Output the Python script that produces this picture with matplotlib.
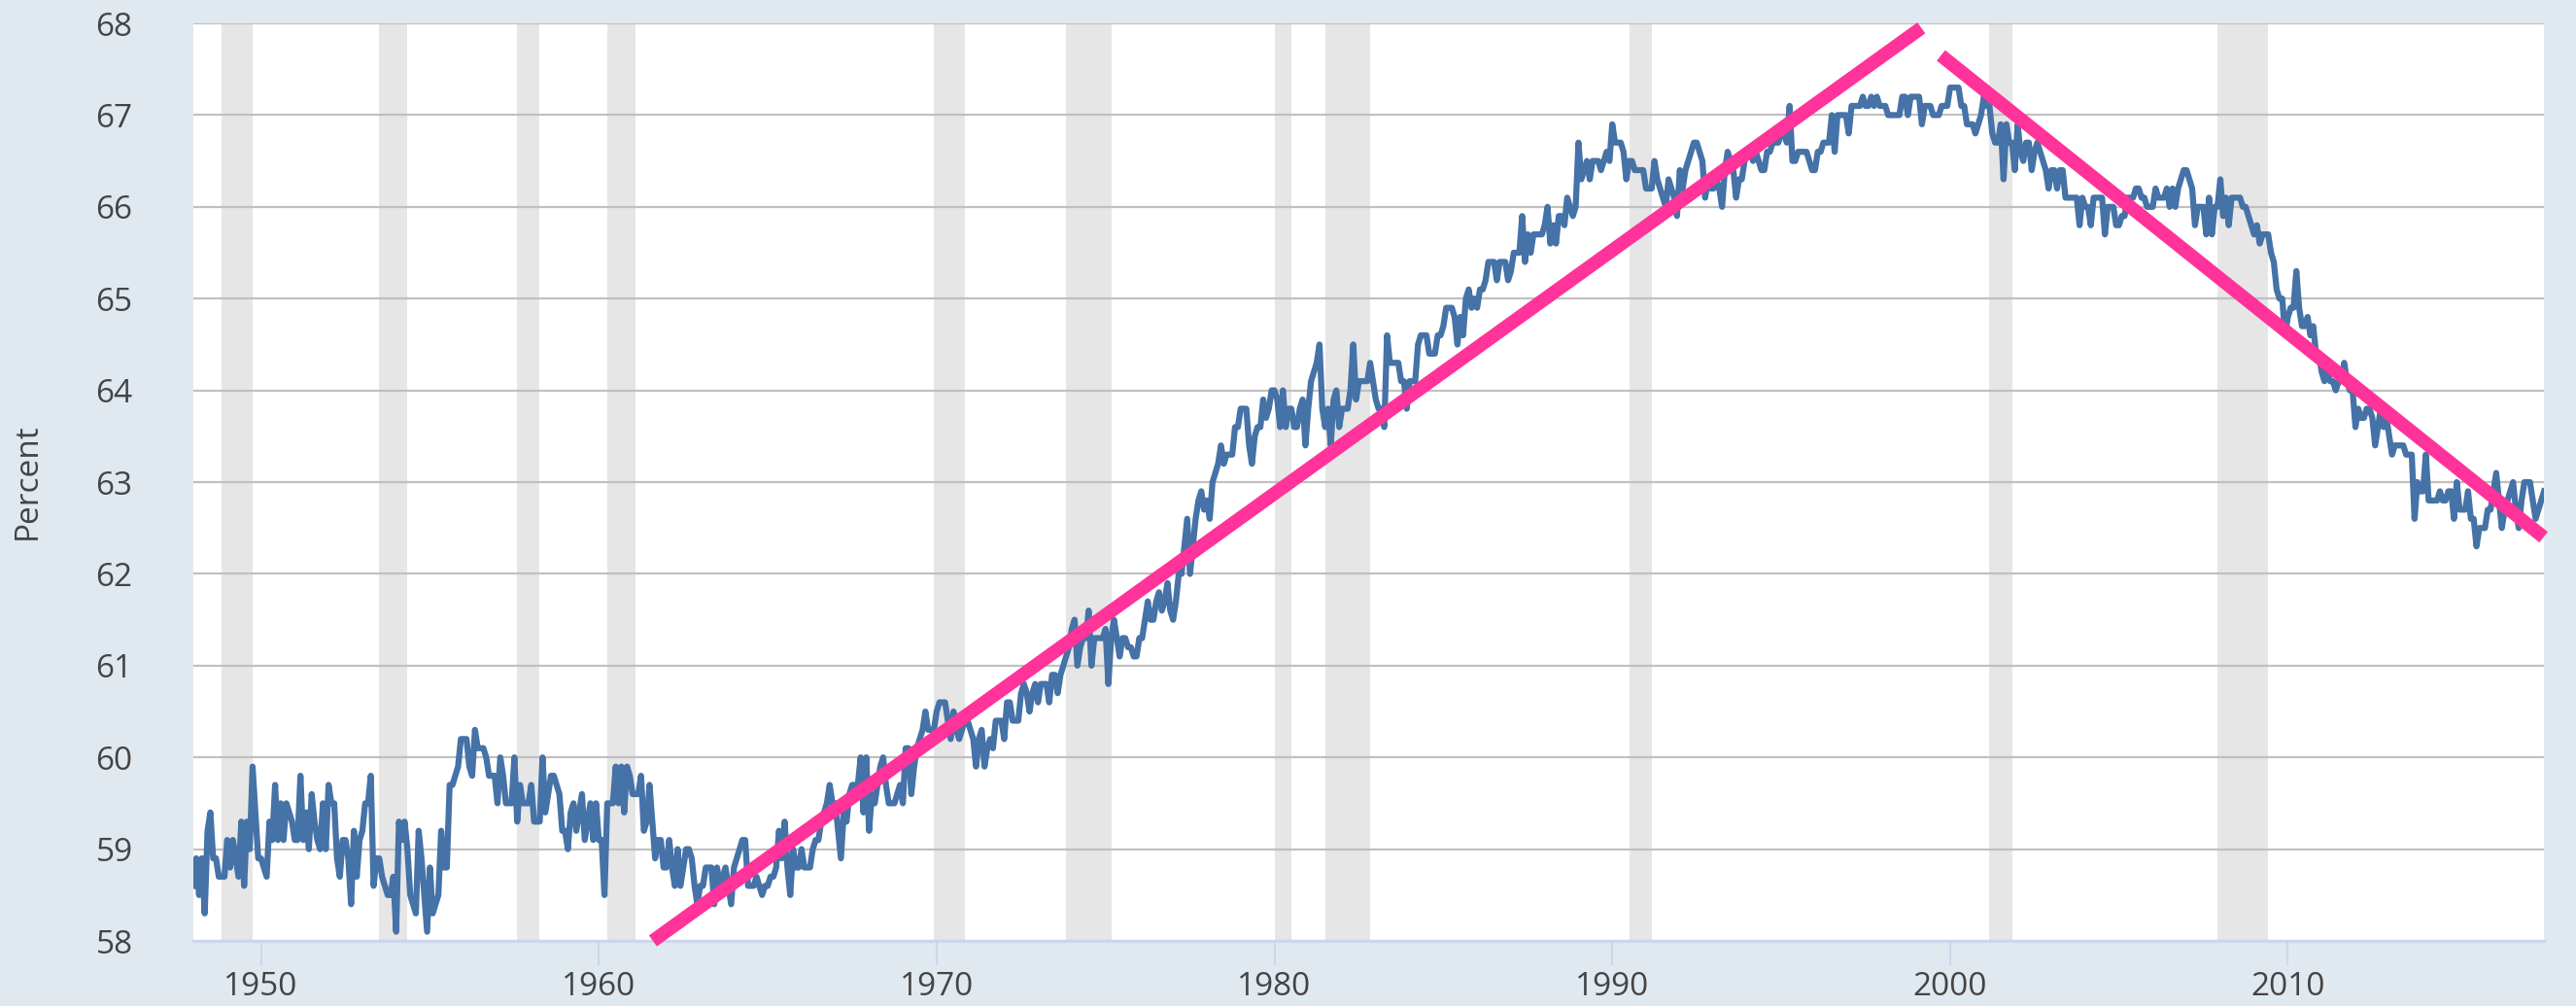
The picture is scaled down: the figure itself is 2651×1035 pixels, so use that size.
import numpy as np
import matplotlib
matplotlib.use("Agg")
import matplotlib.pyplot as plt

# civilian labor force participation rate, monthly, Jan 1948 - Aug 2017 (percent)
lfpr_1948_1959 = [
    58.6, 58.9, 58.5, 58.9, 58.3, 59.2, 59.4, 58.9, 58.9, 58.7, 58.7, 58.7,
    59.1, 58.8, 59.1, 58.9, 58.7, 59.3, 58.6, 59.3, 59.0, 59.9, 59.4, 58.9,
    58.9, 58.8, 58.7, 59.3, 59.1, 59.7, 59.1, 59.5, 59.1, 59.5, 59.4, 59.3,
    59.1, 59.1, 59.8, 59.1, 59.4, 59.0, 59.6, 59.3, 59.1, 59.0, 59.5, 59.0,
    59.7, 59.5, 59.5, 58.9, 58.7, 59.1, 59.1, 58.9, 58.4, 59.2, 58.7, 59.1,
    59.2, 59.5, 59.5, 59.8, 58.6, 58.9, 58.9, 58.7, 58.6, 58.5, 58.5, 58.7,
    58.1, 59.3, 59.1, 59.3, 59.0, 58.5, 58.4, 58.3, 59.2, 58.9, 58.5, 58.1,
    58.8, 58.3, 58.4, 58.5, 59.2, 58.8, 58.8, 59.7, 59.7, 59.8, 59.9, 60.2,
    60.2, 60.2, 59.9, 59.8, 60.3, 60.1, 60.1, 60.1, 60.0, 59.8, 59.8, 59.8,
    59.5, 60.0, 59.8, 59.5, 59.5, 59.5, 60.0, 59.3, 59.7, 59.5, 59.5, 59.5,
    59.7, 59.3, 59.3, 59.3, 60.0, 59.4, 59.6, 59.8, 59.8, 59.7, 59.6, 59.2,
    59.2, 59.0, 59.4, 59.5, 59.2, 59.4, 59.6, 59.1, 59.3, 59.5, 59.1, 59.5,
]
lfpr_1960s = [
    59.1, 59.1, 58.5, 59.5, 59.5, 59.5, 59.9, 59.5, 59.9, 59.4, 59.9, 59.8,
    59.6, 59.6, 59.6, 59.8, 59.2, 59.3, 59.7, 59.3, 58.9, 59.1, 59.1, 58.8,
    58.8, 59.1, 58.8, 58.6, 59.0, 58.6, 58.8, 59.0, 59.0, 58.9, 58.6, 58.4,
    58.6, 58.6, 58.8, 58.8, 58.8, 58.4, 58.8, 58.6, 58.7, 58.8, 58.6, 58.4,
    58.8, 58.9, 59.0, 59.1, 59.1, 58.6, 58.6, 58.6, 58.7, 58.6, 58.5, 58.6,
    58.6, 58.7, 58.7, 58.8, 59.2, 58.9, 59.3, 58.8, 58.5, 59.0, 58.8, 58.8,
    59.0, 58.8, 58.8, 58.8, 59.0, 59.1, 59.1, 59.3, 59.4, 59.5, 59.7, 59.5,
    59.5, 59.2, 58.9, 59.4, 59.3, 59.6, 59.7, 59.7, 59.7, 60.0, 59.4, 60.0,
    59.2, 59.6, 59.5, 59.7, 59.9, 60.0, 59.7, 59.5, 59.5, 59.5, 59.6, 59.7,
    59.5, 60.1, 60.1, 59.6, 59.9, 60.1, 60.2, 60.3, 60.5, 60.3, 60.3, 60.3,
]
lfpr_1970s = [
    60.5, 60.6, 60.6, 60.6, 60.4, 60.2, 60.5, 60.3, 60.2, 60.3, 60.4, 60.4,
    60.3, 60.2, 59.9, 60.2, 60.3, 59.9, 60.1, 60.2, 60.1, 60.4, 60.4, 60.4,
    60.2, 60.6, 60.6, 60.4, 60.4, 60.4, 60.7, 60.8, 60.7, 60.5, 60.7, 60.8,
    60.6, 60.8, 60.8, 60.8, 60.6, 60.9, 60.9, 60.7, 60.9, 61.0, 61.1, 61.2,
    61.4, 61.5, 61.0, 61.2, 61.3, 61.3, 61.6, 61.0, 61.3, 61.3, 61.3, 61.3,
    61.4, 60.8, 61.3, 61.5, 61.3, 61.1, 61.3, 61.3, 61.2, 61.2, 61.1, 61.1,
    61.3, 61.3, 61.5, 61.7, 61.5, 61.5, 61.7, 61.8, 61.6, 61.7, 61.9, 61.6,
    61.5, 61.7, 62.0, 62.0, 62.3, 62.6, 62.0, 62.3, 62.6, 62.8, 62.9, 62.7,
    62.8, 62.6, 63.0, 63.1, 63.2, 63.4, 63.2, 63.3, 63.3, 63.3, 63.6, 63.6,
    63.8, 63.8, 63.8, 63.4, 63.2, 63.5, 63.6, 63.6, 63.9, 63.7, 63.8, 64.0,
]
lfpr_1980s = [
    64.0, 63.9, 63.6, 64.0, 63.6, 63.8, 63.8, 63.6, 63.6, 63.8, 63.9, 63.4,
    63.8, 64.1, 64.2, 64.3, 64.5, 63.8, 63.6, 63.8, 63.4, 63.9, 64.0, 63.6,
    63.8, 63.8, 63.8, 64.0, 64.5, 63.9, 64.1, 64.1, 64.1, 64.1, 64.3, 64.1,
    63.9, 63.8, 63.8, 63.6, 64.6, 64.3, 64.3, 64.3, 64.3, 64.1, 64.1, 63.8,
    64.1, 64.1, 64.1, 64.5, 64.6, 64.6, 64.6, 64.4, 64.4, 64.4, 64.6, 64.6,
    64.7, 64.9, 64.9, 64.9, 64.8, 64.5, 64.8, 64.6, 65.0, 65.1, 64.9, 65.0,
    64.9, 65.1, 65.1, 65.2, 65.4, 65.4, 65.4, 65.2, 65.4, 65.4, 65.4, 65.2,
    65.3, 65.5, 65.5, 65.5, 65.9, 65.4, 65.7, 65.5, 65.7, 65.7, 65.7, 65.7,
    65.8, 66.0, 65.6, 65.8, 65.6, 65.9, 65.9, 65.8, 66.1, 66.0, 65.9, 66.0,
    66.7, 66.3, 66.4, 66.5, 66.3, 66.5, 66.5, 66.5, 66.4, 66.5, 66.6, 66.5,
]
lfpr_1990s = [
    66.9, 66.7, 66.7, 66.7, 66.6, 66.3, 66.5, 66.5, 66.4, 66.4, 66.4, 66.4,
    66.2, 66.2, 66.2, 66.5, 66.3, 66.2, 66.1, 66.0, 66.3, 66.2, 66.1, 65.9,
    66.4, 66.2, 66.4, 66.5, 66.6, 66.7, 66.7, 66.6, 66.5, 66.1, 66.3, 66.2,
    66.2, 66.3, 66.2, 66.0, 66.4, 66.6, 66.5, 66.4, 66.1, 66.3, 66.3, 66.5,
    66.6, 66.6, 66.5, 66.6, 66.5, 66.4, 66.4, 66.6, 66.6, 66.7, 66.7, 66.7,
    66.8, 66.8, 66.7, 67.1, 66.5, 66.5, 66.6, 66.6, 66.6, 66.6, 66.5, 66.4,
    66.4, 66.6, 66.6, 66.7, 66.7, 66.7, 67.0, 66.6, 67.0, 67.0, 67.0, 67.0,
    66.8, 67.1, 67.1, 67.1, 67.1, 67.2, 67.1, 67.1, 67.2, 67.1, 67.2, 67.1,
    67.1, 67.1, 67.0, 67.0, 67.0, 67.0, 67.0, 67.2, 67.2, 67.0, 67.2, 67.2,
    67.2, 67.2, 66.9, 67.1, 67.1, 67.1, 67.0, 67.0, 67.0, 67.1, 67.1, 67.1,
]
lfpr_2000s = [
    67.3, 67.3, 67.3, 67.3, 67.1, 67.1, 66.9, 66.9, 66.9, 66.8, 66.9, 67.0,
    67.2, 67.1, 67.1, 66.8, 66.7, 66.7, 66.9, 66.3, 66.9, 66.7, 66.7, 66.4,
    66.9, 66.6, 66.5, 66.7, 66.7, 66.4, 66.6, 66.7, 66.6, 66.5, 66.4, 66.2,
    66.4, 66.4, 66.2, 66.4, 66.4, 66.1, 66.1, 66.1, 66.1, 66.1, 65.8, 66.1,
    66.0, 66.0, 65.8, 66.1, 66.1, 66.1, 66.1, 65.7, 66.0, 66.0, 66.0, 65.8,
    65.8, 65.9, 65.9, 66.1, 66.1, 66.1, 66.2, 66.2, 66.1, 66.1, 66.0, 66.0,
    66.0, 66.2, 66.1, 66.1, 66.1, 66.2, 66.0, 66.2, 66.0, 66.2, 66.3, 66.4,
    66.4, 66.3, 66.2, 65.8, 66.0, 66.0, 66.0, 65.7, 66.1, 65.7, 66.0, 66.0,
    66.3, 65.9, 66.1, 65.8, 66.1, 66.1, 66.1, 66.1, 66.0, 66.0, 65.9, 65.8,
    65.7, 65.8, 65.6, 65.7, 65.7, 65.7, 65.5, 65.4, 65.1, 65.0, 65.0, 64.6,
]
lfpr_2010s = [
    64.8, 64.9, 64.9, 65.3, 64.9, 64.7, 64.7, 64.8, 64.6, 64.7, 64.4, 64.4,
    64.2, 64.1, 64.2, 64.1, 64.1, 64.0, 64.1, 64.1, 64.3, 64.1, 64.0, 64.0,
    63.6, 63.8, 63.7, 63.7, 63.8, 63.8, 63.7, 63.4, 63.6, 63.8, 63.6, 63.7,
    63.5, 63.3, 63.4, 63.4, 63.4, 63.4, 63.3, 63.3, 63.3, 62.6, 63.0, 62.9,
    62.9, 63.3, 62.8, 62.8, 62.8, 62.8, 62.9, 62.8, 62.8, 62.9, 62.9, 62.6,
    63.0, 62.7, 62.7, 62.7, 62.9, 62.6, 62.6, 62.3, 62.5, 62.5, 62.5, 62.7,
    62.7, 62.9, 63.1, 62.8, 62.5, 62.7, 62.8, 62.9, 63.0, 62.7, 62.5, 62.8,
    63.0, 63.0, 63.0, 62.8, 62.6, 62.7, 62.8, 62.9,
]

# NBER recessions (peak month, trough month)
recession_start = ["1948-11", "1953-07", "1957-08", "1960-04", "1969-12", "1973-11",
                   "1980-01", "1981-07", "1990-07", "2001-03", "2007-12"]
recession_end = ["1949-10", "1954-05", "1958-04", "1961-02", "1970-11", "1975-03",
                 "1980-07", "1982-11", "1991-03", "2001-11", "2009-06"]

# hand drawn trend lines (decimal year, percent)
trend_up_x = [1961.6, 1999.15]
trend_up_y = [58.0, 67.95]
trend_down_x = [1999.73, 2017.57]
trend_down_y = [67.65, 62.40]

y_ticks = [58, 59, 60, 61, 62, 63, 64, 65, 66, 67, 68]
x_ticks = [1950, 1960, 1970, 1980, 1990, 2000, 2010]


def to_year(s):
    y, m = s.split("-")
    return int(y) + (int(m) - 1) / 12


lfpr = np.array(lfpr_1948_1959 + lfpr_1960s + lfpr_1970s + lfpr_1980s
                + lfpr_1990s + lfpr_2000s + lfpr_2010s)
years = 1948 + np.arange(len(lfpr)) / 12

plt.rcParams['font.family'] = ['Open Sans', 'DejaVu Sans']

fig = plt.figure(figsize=(26.51, 10.35), dpi=100, facecolor='#e1e9f0')
ax = fig.add_axes([0.0751, 0.0647, 0.9125, 0.9121])
ax.set_facecolor('white')

for s, e in zip(recession_start, recession_end):
    ax.axvspan(to_year(s), to_year(e), color='#e6e6e6', lw=0, zorder=0.2)

ax.plot(years, lfpr, color='#4572a7', lw=4.5, solid_joinstyle='round', zorder=3)
ax.plot(trend_up_x, trend_up_y, color='#ff3399', lw=10, solid_capstyle='butt',
        clip_on=False, zorder=4)
ax.plot(trend_down_x, trend_down_y, color='#ff3399', lw=10, solid_capstyle='butt',
        clip_on=False, zorder=4)

ax.set_xlim(years[0], years[-1])
ax.set_ylim(58, 68)
ax.set_yticks(y_ticks)
ax.set_xticks(x_ticks)
ax.set_xticklabels([str(t) for t in x_ticks])

ax.set_axisbelow(True)
ax.grid(axis='y', color='#c0c0c0', lw=1.6, zorder=0.5)
ax.grid(axis='x', visible=False)

for side in ['top', 'left', 'right']:
    ax.spines[side].set_visible(False)
ax.spines['bottom'].set_color('#ccd6eb')
ax.spines['bottom'].set_linewidth(2.2)

ax.tick_params(axis='y', length=0, pad=45, labelsize=24, labelcolor='#444444')
ax.tick_params(axis='x', length=18, width=1.5, color='#ccd6eb', pad=4,
               labelsize=24, labelcolor='#444444')

# y axis title, placed in figure pixels like the reference
fig.text(28 / 2651, 1 - 495 / 1035, 'Percent', rotation=90, ha='center', va='center',
         fontsize=24, color='#444444')

fig.savefig('out.png', dpi=100, facecolor=fig.get_facecolor())
